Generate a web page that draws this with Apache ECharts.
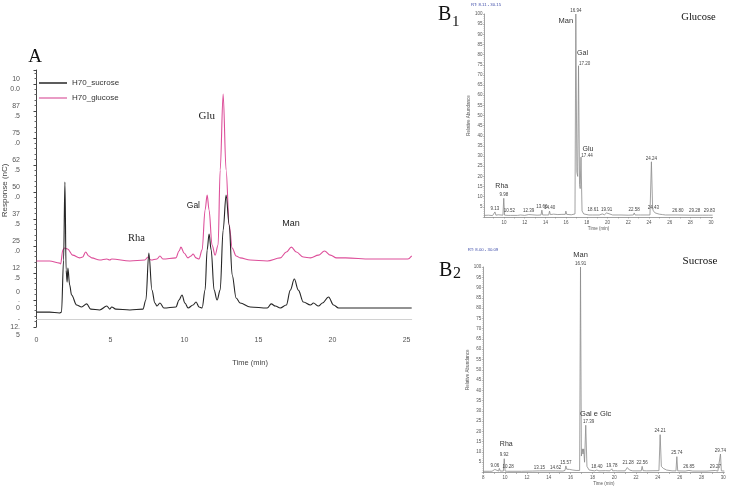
<!DOCTYPE html>
<html lang="en">
<head>
<meta charset="UTF-8">
<title>Chromatograms</title>
<script src="https://cdn.jsdelivr.net/npm/echarts@6/dist/echarts.min.js"></script>
<style>
  html, body { margin: 0; padding: 0; background: #fff; }
  #chart { width: 750px; height: 488px; }
</style>
</head>
<body>
<div id="chart"></div>
<script>
// ---------- panel A : HPAEC-PAD, [time (min), response (nC)] ----------
var sucroseA = [[0.00,-5.7],[0.88,-5.7],[1.56,-6.1],[1.69,-5.7],[1.83,18.4],[1.92,54.5],[2.00,13.8],[2.07,8.2],[2.12,14.7],
  [2.24,6.9],[2.37,2.2],[2.71,-2.4],[3.05,-3.3],[3.39,-1.9],[3.66,-4.3],[4.27,-4.7],[4.75,-2.9],[4.95,-4.3],[5.08,-3.3],
  [5.36,-4.3],[6.31,-4.7],[7.19,-4.3],[7.39,-0.1],[7.59,21.7],[7.80,4.5],[8.00,-1.5],[8.14,-2.9],[8.34,-1.5],[8.61,-3.8],
  [9.42,-3.3],[9.63,-0.1],[9.83,2.2],[10.03,-1.5],[10.24,-3.8],[10.58,-2.4],[10.78,-1.0],[10.98,-3.3],[11.19,-3.8],
  [11.39,4.5],[11.53,23.1],[11.66,30.5],[11.80,23.1],[12.00,4.5],[12.20,-0.1],[12.41,4.5],[12.61,32.3],[12.81,48.5],
  [13.02,34.6],[13.22,11.5],[13.49,0.8],[13.76,-1.5],[14.44,-3.3],[15.59,-3.8],[15.86,-1.9],[16.14,-2.9],[16.47,-3.8],
  [16.88,-2.4],[17.15,4.5],[17.42,9.6],[17.69,4.5],[18.03,-1.0],[18.51,-2.4],[18.71,-1.5],[19.05,-2.9],[19.32,-1.5],
  [19.73,1.3],[20.07,-2.4],[20.41,-3.8],[22.58,-3.8],[25.35,-3.8]];
var glucoseA = [[0.00,18.0],[0.88,18.0],[1.56,17.0],[1.63,16.6],[1.78,23.1],[1.90,24.0],[2.10,23.5],[2.44,20.7],[2.92,19.4],
  [3.12,19.8],[3.32,22.1],[3.53,20.3],[3.73,19.4],[4.27,18.4],[4.75,18.9],[4.95,18.4],[5.08,18.9],[6.31,18.0],[7.32,18.4],
  [7.53,19.8],[7.73,18.4],[8.14,18.9],[8.34,20.3],[8.54,18.9],[9.42,19.4],[9.63,22.6],[9.76,24.4],[9.97,21.7],[10.24,19.4],
  [10.44,20.3],[10.58,21.2],[10.78,19.4],[10.98,18.9],[11.19,23.1],[11.39,41.6],[11.53,48.5],[11.66,41.6],[11.86,25.4],
  [12.07,20.7],[12.27,25.4],[12.41,60.1],[12.61,95.3],[12.81,60.1],[13.02,34.6],[13.22,24.0],[13.49,20.3],[13.76,19.4],
  [14.44,18.4],[15.59,18.0],[16.47,19.4],[16.88,22.1],[17.22,24.4],[17.56,22.1],[18.03,19.8],[18.51,19.4],[19.05,20.7],
  [19.46,22.6],[19.86,20.7],[20.27,19.4],[20.88,19.4],[22.58,18.9],[25.10,18.9],[25.35,20.3]];
var ticksA = [-12.5, 0, 12.5, 25, 37.5, 50, 62.5, 75, 87.5, 100];
var tickTextA = ['-\n12.\n5', '0\n.\n0', '12\n.5', '25\n.0', '37\n.5', '50\n.0', '62\n.5', '75\n.0', '87\n.5', '10\n0.0'];

// ---------- panel B1 / B2 : GC-MS, [time (min), relative abundance %] ----------
var glucoseB = [[8.11,0.8],[8.5,0.9],[8.9,0.7],[9.05,1.6],[9.13,2.5],[9.22,0.9],[9.45,1.1],[9.6,0.8],[9.9,0.9],[9.98,9.2],
  [10.06,0.9],[10.4,0.8],[10.52,1.2],[10.62,0.8],[11.3,0.8],[11.6,1.0],[12.0,0.8],[12.39,1.2],[12.5,0.8],[13.2,0.9],
  [13.58,1.0],[13.66,3.4],[13.74,1.0],[14.1,1.0],[14.32,1.0],[14.40,2.9],[14.48,1.2],[14.8,1.4],[15.2,1.2],[15.6,1.3],
  [15.92,1.3],[15.98,2.9],[16.06,1.3],[16.5,1.1],[16.86,1.5],[16.94,100],[17.04,22],[17.12,20],[17.20,74.5],[17.30,16],
  [17.36,14],[17.44,29.5],[17.54,3],[17.7,1.5],[18.2,1.0],[18.53,1.0],[18.61,1.8],[18.7,1.0],[19.2,1.0],[19.5,1.5],
  [19.7,1.1],[19.91,2.0],[20.0,1.2],[20.5,1.0],[21.1,1.0],[21.2,1.8],[21.3,1.0],[22.0,0.9],[22.5,1.0],[22.58,2.0],
  [22.66,1.0],[23.0,1.0],[23.1,1.5],[23.2,1.0],[24.1,1.0],[24.24,27.2],[24.36,4],[24.43,3],[24.6,2],[25.0,1.4],[25.3,1.2],
  [25.6,1.0],[26.72,1.0],[26.80,1.4],[26.88,1.0],[28.0,0.9],[29.2,0.9],[29.28,1.2],[29.36,0.9],[29.75,0.9],[29.83,1.5],
  [29.9,0.9],[30.15,0.9]];
var sucroseB = [[8.00,0.6],[8.6,0.6],[8.7,1.2],[8.8,0.6],[8.98,0.7],[9.06,1.5],[9.14,0.7],[9.4,0.7],[9.47,2.0],[9.55,0.7],
  [9.84,0.7],[9.92,6.7],[10.0,0.7],[10.2,0.6],[10.28,0.9],[10.36,0.6],[11.5,0.6],[12.5,0.7],[13.15,0.8],[13.3,0.6],
  [14.62,0.8],[14.8,0.6],[15.3,0.7],[15.49,1.0],[15.57,3.2],[15.65,1.6],[15.9,1.5],[16.2,1.2],[16.5,1.0],[16.83,1.0],
  [16.91,100],[16.99,8],[17.07,11.5],[17.14,9],[17.20,11.5],[17.28,5],[17.39,23],[17.5,3],[17.7,1.2],[18.2,0.8],
  [18.40,1.2],[18.6,0.8],[19.2,0.9],[19.6,0.8],[19.7,1.5],[19.78,1.8],[19.86,0.8],[20.1,0.9],[20.2,1.3],[20.3,0.8],
  [21.0,0.8],[21.2,2.4],[21.28,3.2],[21.4,1.2],[21.7,0.8],[22.48,0.8],[22.56,3.0],[22.64,0.9],[22.95,0.8],[23.02,1.6],
  [23.1,0.8],[24.1,0.9],[24.21,18.4],[24.32,3],[24.5,2],[24.8,1.2],[25.3,0.8],[25.66,0.8],[25.74,7.7],[25.82,0.8],
  [26.5,0.7],[26.85,1.0],[27.2,0.7],[28.5,0.7],[29.27,1.0],[29.5,0.7],[29.66,0.8],[29.74,9.0],[29.82,0.8],[30.09,0.7]];
var peaksB1 = [9.13, 9.98, 10.52, 12.39, 13.66, 14.40, 16.94, 17.20, 17.44, 18.61, 19.91, 22.58, 24.24, 24.43, 26.80, 29.28, 29.83];
var peaksB2 = [9.06, 9.92, 10.28, 13.15, 14.62, 15.57, 16.91, 17.39, 18.40, 19.78, 21.28, 22.56, 24.21, 25.74, 26.85, 29.27, 29.74];

var SANS = 'Liberation Sans', SERIF = 'Liberation Serif';

function topAt(trace, t) {
  for (var i = 0; i < trace.length; i++) {
    if (Math.abs(trace[i][0] - t) < 0.005) return trace[i][1];
  }
  return 0;
}

// retention-time labels above each peak, plus the sugar names
function peakMarks(trace, peaks, shifted, names) {
  var data = peaks.map(function (t) {
    var item = { name: t.toFixed(2), coord: [t, topAt(trace, t)] };
    if (shifted[item.name]) item.label = { offset: shifted[item.name] };
    return item;
  });
  names.forEach(function (n) {
    data.push({
      name: n.text, coord: [n.t, topAt(trace, n.t)],
      label: { position: 'inside', offset: n.offset, fontSize: n.size, color: '#333' }
    });
  });
  return {
    symbol: 'circle', symbolSize: 0, silent: true, animation: false,
    label: { show: true, position: 'top', distance: 1, formatter: '{b}', fontSize: 4.5, color: '#444', fontFamily: SANS },
    data: data
  };
}

var chart = echarts.init(document.getElementById('chart'));

var bY = function (grid) {
  return {
    gridIndex: grid, type: 'value', min: 0, max: 100, interval: 5,
    name: 'Relative Abundance', nameLocation: 'middle', nameGap: 12,
    nameTextStyle: { fontSize: 4.5, color: '#555', fontFamily: SANS },
    axisLine: { show: true, lineStyle: { color: '#8a8a8a', width: 0.8 } },
    axisTick: { show: true, length: 1.5, lineStyle: { color: '#8a8a8a', width: 0.6 } },
    minorTick: { show: true, splitNumber: 5, length: 1, lineStyle: { color: '#aaa', width: 0.5 } },
    axisLabel: { fontSize: 4.5, color: '#555', margin: 2, fontFamily: SANS,
      formatter: function (v) { return v === 0 ? '' : v; } },
    splitLine: { show: false }
  };
};
var bX = function (grid, min, max) {
  var labels = [], ticks = [];
  for (var v = Math.ceil(min); v <= max; v++) { ticks.push(v); if (v % 2 === 0) labels.push(v); }
  return {
    gridIndex: grid, type: 'value', min: min, max: max,
    name: 'Time (min)', nameLocation: 'middle', nameGap: 9,
    nameTextStyle: { fontSize: 4.5, color: '#555', fontFamily: SANS },
    axisLine: { show: true, onZero: false, lineStyle: { color: '#8a8a8a', width: 0.8 } },
    axisTick: { show: true, length: 1.5, customValues: ticks, lineStyle: { color: '#8a8a8a', width: 0.6 } },
    axisLabel: { fontSize: 4.5, color: '#555', margin: 3, fontFamily: SANS, customValues: labels },
    splitLine: { show: false }
  };
};

var option = {
  animation: false,
  backgroundColor: '#fff',
  legend: {
    data: ['H70_sucrose', 'H70_glucose'],
    orient: 'vertical', left: 34, top: 74,
    icon: 'rect', itemWidth: 28, itemHeight: 1.5, itemGap: 7,
    textStyle: { fontSize: 8, color: '#333', fontFamily: SANS }
  },
  grid: [
    { left: 36.5, right: 338.3, top: 70, bottom: 161.2, outerBoundsMode: 'none' },
    { left: 484.4, right: 37.4, top: 14, bottom: 271, outerBoundsMode: 'none' },
    { left: 483.3, right: 25.7, top: 267, bottom: 15.5, outerBoundsMode: 'none' }
  ],
  xAxis: [
    {
      gridIndex: 0, type: 'value', min: 0, max: 25.35, interval: 5, offset: -7.6,
      name: 'Time (min)', nameLocation: 'middle', nameGap: 40, nameMoveOverlap: false,
      nameTextStyle: { fontSize: 7.5, color: '#444', fontFamily: SANS, padding: [0, 0, 0, 52] },
      axisLine: { show: true, onZero: false, lineStyle: { color: '#d2d2d2', width: 1 } },
      axisTick: { show: false },
      axisLabel: { fontSize: 7, color: '#555', margin: 17, fontFamily: SANS,
        formatter: function (v) { return v % 5 === 0 ? v : ''; } },
      splitLine: { show: false }
    },
    bX(1, 8.11, 30.15),
    bX(2, 8.00, 30.09)
  ],
  yAxis: [
    {
      gridIndex: 0, type: 'value', min: -12.5, max: 106.4, interval: 12.5, offset: 6.5,
      name: 'Response (nC)', nameLocation: 'middle', nameGap: 21, nameMoveOverlap: false,
      nameTextStyle: { fontSize: 8, color: '#444', fontFamily: SANS, padding: [0, 0, 0, 16] },
      axisLine: { show: true, lineStyle: { color: '#444', width: 1 } },
      axisTick: { show: true, length: 3, lineStyle: { color: '#444' } },
      minorTick: { show: true, splitNumber: 5, length: 2, lineStyle: { color: '#666' } },
      axisLabel: { fontSize: 7, lineHeight: 10, color: '#555', margin: 10, fontFamily: SANS,
        showMinLabel: true,
        rich: { n: { fontSize: 7, lineHeight: 8, color: '#555', fontFamily: SANS, align: 'right' } },
        formatter: function (v) {
          var i = ticksA.indexOf(v);
          if (i < 0) return '';
          var txt = tickTextA[i];
          // three-line labels are packed tighter so they do not collide
          return txt.split('\n').length > 2 ? txt.split('\n').map(function (s) { return '{n|' + s + '}'; }).join('\n') : txt;
        } },
      splitLine: { show: false }
    },
    bY(1),
    bY(2)
  ],
  graphic: [
    { type: 'text', x: 35, y: 57, style: { text: 'A', font: '19px "Liberation Serif"', fill: '#111', align: 'center', verticalAlign: 'middle' } },
    { type: 'text', x: 438, y: 15, style: { text: 'B', font: '20px "Liberation Serif"', fill: '#111', align: 'left', verticalAlign: 'middle' } },
    { type: 'text', x: 452, y: 22, style: { text: '1', font: '15px "Liberation Serif"', fill: '#111', align: 'left', verticalAlign: 'middle' } },
    { type: 'text', x: 439, y: 271, style: { text: 'B', font: '20px "Liberation Serif"', fill: '#111', align: 'left', verticalAlign: 'middle' } },
    { type: 'text', x: 453, y: 274, style: { text: '2', font: '16px "Liberation Serif"', fill: '#111', align: 'left', verticalAlign: 'middle' } },
    { type: 'text', x: 486, y: 5, style: { text: 'RT: 8.11 - 30.15', font: '4.3px "Liberation Sans"', fill: '#3b4aa8', align: 'center', verticalAlign: 'middle' } },
    { type: 'text', x: 483, y: 249.5, style: { text: 'RT: 8.00 - 30.09', font: '4.3px "Liberation Sans"', fill: '#3b4aa8', align: 'center', verticalAlign: 'middle' } },
    { type: 'text', x: 698.5, y: 17, style: { text: 'Glucose', font: '10.5px "Liberation Serif"', fill: '#111', align: 'center', verticalAlign: 'middle' } },
    { type: 'text', x: 700, y: 261, style: { text: 'Sucrose', font: '11px "Liberation Serif"', fill: '#111', align: 'center', verticalAlign: 'middle' } }
  ],
  series: [
    {
      name: 'H70_sucrose', type: 'line', xAxisIndex: 0, yAxisIndex: 0, data: sucroseA,
      showSymbol: false, smooth: 0.35, smoothMonotone: 'x', z: 3,
      lineStyle: { color: '#262626', width: 1.1 }, itemStyle: { color: '#262626' },
      markPoint: {
        symbol: 'circle', symbolSize: 0, silent: true,
        label: { show: true, position: 'inside', formatter: '{b}', color: '#222' },
        data: [
          { name: 'Rha', coord: [6.75, 28.6], label: { fontFamily: SERIF, fontSize: 10.5 } },
          { name: 'Gal', coord: [10.6, 43.7], label: { fontFamily: SANS, fontSize: 8.5 } },
          { name: 'Glu', coord: [11.5, 85.2], label: { fontFamily: SERIF, fontSize: 11 } },
          { name: 'Man', coord: [17.2, 35.4], label: { fontFamily: SANS, fontSize: 9 } }
        ]
      }
    },
    {
      name: 'H70_glucose', type: 'line', xAxisIndex: 0, yAxisIndex: 0, data: glucoseA,
      showSymbol: false, smooth: 0.35, smoothMonotone: 'x', z: 2,
      lineStyle: { color: '#dd4f9a', width: 1.1 }, itemStyle: { color: '#e27bb2' }
    },
    {
      name: 'TIC glucose', type: 'line', xAxisIndex: 1, yAxisIndex: 1, data: glucoseB,
      showSymbol: false, lineStyle: { color: '#8a8a8a', width: 0.8 },
      markPoint: peakMarks(glucoseB, peaksB1, { '17.20': [6, 2], '17.44': [6, 2], '29.28': [-9, 0] }, [
        { text: 'Rha', t: 9.98, offset: [-2, -12], size: 7 },
        { text: 'Man', t: 16.94, offset: [-10, 7], size: 7.5 },
        { text: 'Gal', t: 17.20, offset: [4, -12.5], size: 7 },
        { text: 'Glu', t: 17.44, offset: [7, -8], size: 7 }
      ])
    },
    {
      name: 'TIC sucrose', type: 'line', xAxisIndex: 2, yAxisIndex: 2, data: sucroseB,
      showSymbol: false, lineStyle: { color: '#8a8a8a', width: 0.8 },
      markPoint: peakMarks(sucroseB, peaksB2, { '17.39': [3, 0] }, [
        { text: 'Rha', t: 9.92, offset: [2, -14.5], size: 7 },
        { text: 'Man', t: 16.91, offset: [0, -12], size: 7.5 },
        { text: 'Gal e Glc', t: 17.39, offset: [10, -11], size: 7.5 }
      ])
    }
  ]
};
chart.setOption(option);
</script>
</body>
</html>
